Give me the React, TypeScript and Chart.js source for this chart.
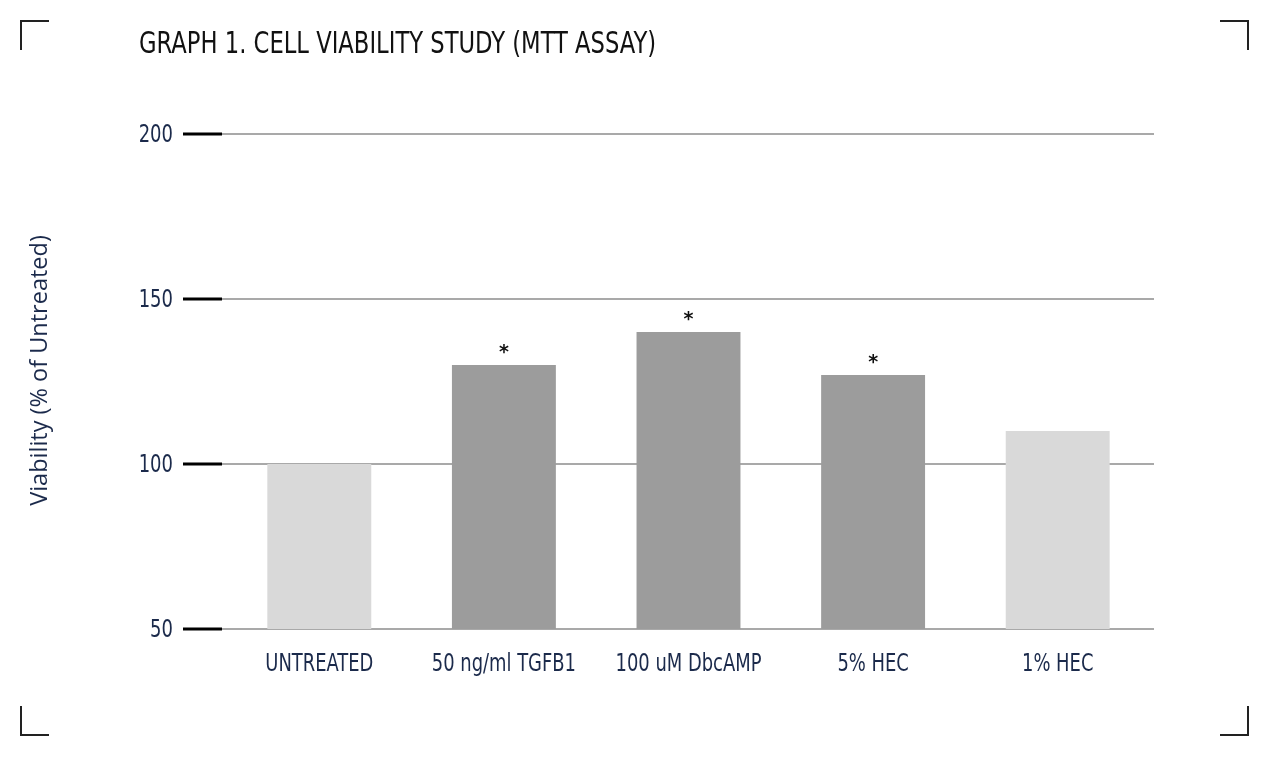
import React, { useEffect, useRef } from "react";
import { Chart, registerables } from "chart.js";

Chart.register(...registerables);

const categories = ["UNTREATED", "50 ng/ml TGFB1", "100 uM DbcAMP", "5% HEC", "1% HEC"];
const viability = [100, 130, 140, 127, 110];
const significant = [false, true, true, true, false];
const barColors = ["#d9d9d9", "#9c9c9c", "#9c9c9c", "#9c9c9c", "#d9d9d9"];
const yMin = 50;
const yMax = 200;
const yStep = 50;
const chartTitle = "GRAPH 1. CELL VIABILITY STUDY (MTT ASSAY)";
const yAxisTitle = "Viability (% of Untreated)";

const NAVY = "#1b2a4b";
const NARROW = '"Liberation Sans Narrow", "DejaVu Sans Condensed", Roboto, sans-serif';
const SQUEEZE = 0.83;

const decor = {
  id: "decor",
  beforeDatasetsDraw(chart: any) {
    const { ctx, chartArea, scales } = chart;
    const y = scales.y;
    ctx.save();
    y.ticks.forEach((t: any) => {
      const py = Math.round(y.getPixelForValue(t.value));
      ctx.strokeStyle = "#a9a9a9";
      ctx.lineWidth = 2;
      ctx.beginPath();
      ctx.moveTo(chartArea.left - 5, py);
      ctx.lineTo(chartArea.right + 4, py);
      ctx.stroke();
      ctx.strokeStyle = "#000";
      ctx.lineWidth = 3;
      ctx.beginPath();
      ctx.moveTo(chartArea.left - 44, py);
      ctx.lineTo(chartArea.left - 5, py);
      ctx.stroke();
    });
    ctx.restore();
  },
  afterDatasetsDraw(chart: any) {
    const { ctx } = chart;
    const meta = chart.getDatasetMeta(0);
    ctx.save();
    ctx.fillStyle = "#111";
    ctx.font = 'bold 19px "DejaVu Sans", sans-serif';
    ctx.textAlign = "center";
    ctx.textBaseline = "middle";
    meta.data.forEach((bar: any, i: number) => {
      if (significant[i]) ctx.fillText("*", bar.x, bar.y - 12);
    });
    ctx.restore();
  },
  afterDraw(chart: any) {
    const { ctx, chartArea, width, height, scales } = chart;
    // tick labels (condensed)
    ctx.save();
    ctx.fillStyle = NAVY;
    ctx.font = `25px ${NARROW}`;
    ctx.textBaseline = "middle";
    ctx.textAlign = "right";
    scales.y.ticks.forEach((t: any) => {
      const py = scales.y.getPixelForValue(t.value);
      ctx.save();
      ctx.translate(chartArea.left - 54, py + 1);
      ctx.scale(0.8, 1);
      ctx.fillText(String(t.label), 0, 0);
      ctx.restore();
    });
    ctx.font = `24px ${NARROW}`;
    ctx.textAlign = "center";
    categories.forEach((c, i) => {
      const px = scales.x.getPixelForTick(i);
      ctx.save();
      ctx.translate(px, chartArea.bottom + 36);
      ctx.scale(SQUEEZE, 1);
      ctx.fillText(c, 0, 0);
      ctx.restore();
    });
    ctx.restore();

    // title
    ctx.save();
    ctx.fillStyle = "#111";
    ctx.font = `30px ${NARROW}`;
    ctx.textAlign = "left";
    ctx.textBaseline = "alphabetic";
    ctx.translate(139, 53);
    ctx.scale(0.84, 1);
    ctx.fillText(chartTitle, 0, 0);
    ctx.restore();

    // y axis title
    ctx.save();
    ctx.fillStyle = NAVY;
    ctx.font = '23.5px "Open Sans", "Noto Sans", sans-serif';
    ctx.textAlign = "center";
    ctx.textBaseline = "middle";
    ctx.translate(40, (chartArea.top + chartArea.bottom) / 2 - 11);
    ctx.rotate(-Math.PI / 2);
    ctx.fillText(yAxisTitle, 0, 0);
    ctx.restore();

    // corner brackets
    ctx.save();
    ctx.strokeStyle = "#222";
    ctx.lineWidth = 2;
    const s = 28;
    const t = 29;
    const l = 21, r = width - 20, top = 21, bot = height - 23;
    ctx.beginPath();
    ctx.moveTo(l, top + t); ctx.lineTo(l, top); ctx.lineTo(l + s, top);
    ctx.moveTo(r - s, top); ctx.lineTo(r, top); ctx.lineTo(r, top + t);
    ctx.moveTo(l, bot - t); ctx.lineTo(l, bot); ctx.lineTo(l + s, bot);
    ctx.moveTo(r, bot - t); ctx.lineTo(r, bot); ctx.lineTo(r - s, bot);
    ctx.stroke();
    ctx.restore();
  },
};

export default function App() {
  const ref = useRef<HTMLCanvasElement>(null);
  useEffect(() => {
    if (!ref.current) return;
    const chart = new Chart(ref.current, {
      type: "bar",
      data: {
        labels: categories,
        datasets: [
          {
            data: viability,
            backgroundColor: barColors,
            borderWidth: 0,
            barPercentage: 0.563,
            categoryPercentage: 1,
          },
        ],
      },
      options: {
        animation: false,
        responsive: false,
        devicePixelRatio: 1,
        layout: { padding: { left: 0, top: 134, right: 118, bottom: 0 } },
        plugins: { legend: { display: false }, tooltip: { enabled: false }, title: { display: false } },
        scales: {
          x: {
            grid: { display: false, drawTicks: false },
            border: { display: false },
            ticks: { display: false, autoSkip: false },
            afterFit: (scale: any) => { scale.height = 129; },
          },
          y: {
            min: yMin,
            max: yMax,
            grid: { display: false, drawTicks: false },
            border: { display: false },
            ticks: { display: false, stepSize: yStep },
            afterFit: (scale: any) => { scale.width = 227; },
          },
        },
      },
      plugins: [decor],
    });
    return () => chart.destroy();
  }, []);
  return (
    <div style={{ position: "absolute", left: 0, top: 0, width: 1268, height: 758, background: "#fff" }}>
      <canvas ref={ref} width={1268} height={758} />
    </div>
  );
}
